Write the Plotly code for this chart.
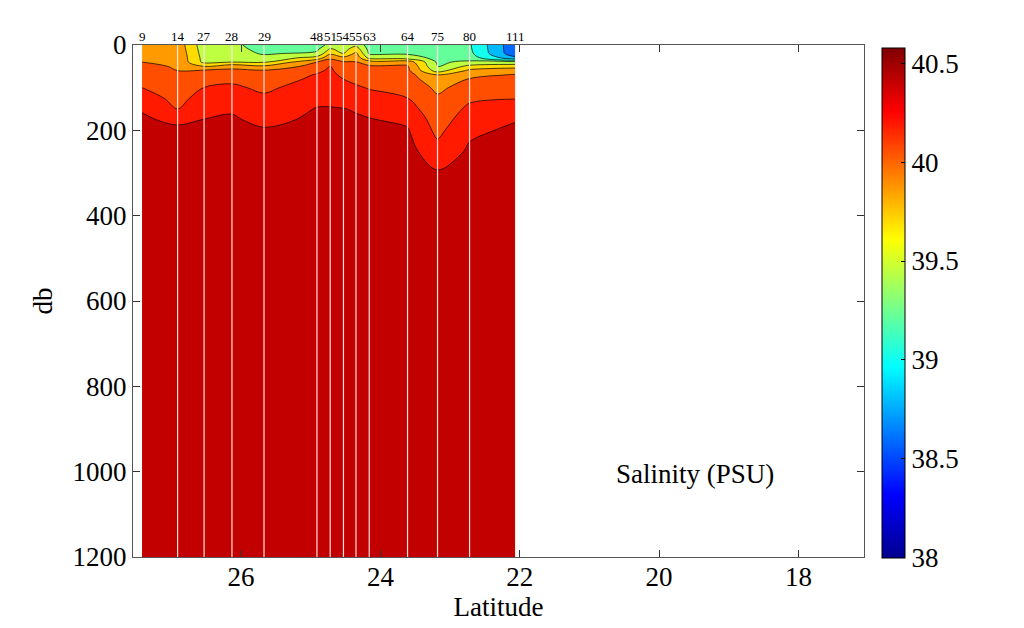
import plotly.graph_objects as go

# ---------------- data ----------------
stations = ["9", "14", "27", "28", "29", "48", "51", "54", "55", "63", "64", "75", "80", "111"]
latitudes = [27.42, 26.91, 26.53, 26.13, 25.67, 24.91, 24.72, 24.53, 24.35, 24.16, 23.61, 23.18, 22.72, 22.06]
depths = [0, 10, 20, 30, 40, 50, 60, 70, 80, 100, 125, 150, 175, 200, 250, 300, 400, 1200]

# salinity profiles (PSU), one row per station, values at the depths above
salinity = [
    [39.900, 39.925, 39.950, 39.975, 40.000, 40.033, 40.067, 40.100, 40.133, 40.200, 40.293, 40.390, 40.420, 40.434, 40.470, 40.473, 40.478, 40.520],  # 9
    [39.920, 39.933, 39.947, 39.960, 39.973, 39.987, 40.000, 40.022, 40.044, 40.089, 40.144, 40.200, 40.370, 40.430, 40.470, 40.475, 40.480, 40.520],  # 14
    [39.480, 39.498, 39.515, 39.533, 39.550, 39.800, 40.027, 40.071, 40.116, 40.203, 40.271, 40.340, 40.403, 40.425, 40.470, 40.475, 40.480, 40.520],  # 27
    [39.450, 39.467, 39.483, 39.500, 39.600, 39.933, 40.044, 40.100, 40.156, 40.235, 40.309, 40.385, 40.416, 40.433, 40.470, 40.475, 40.480, 40.520],  # 28
    [39.300, 39.340, 39.380, 39.459, 39.576, 39.833, 40.018, 40.054, 40.089, 40.161, 40.236, 40.301, 40.366, 40.414, 40.470, 40.475, 40.480, 40.520],  # 29
    [39.320, 39.364, 39.440, 39.680, 40.000, 40.080, 40.160, 40.214, 40.241, 40.296, 40.364, 40.408, 40.423, 40.439, 40.470, 40.475, 40.480, 40.520],  # 48
    [39.450, 39.629, 39.771, 39.945, 40.117, 40.211, 40.232, 40.254, 40.275, 40.318, 40.372, 40.407, 40.423, 40.439, 40.470, 40.475, 40.480, 40.520],  # 51
    [39.450, 39.525, 39.600, 39.850, 40.018, 40.064, 40.109, 40.155, 40.200, 40.261, 40.336, 40.404, 40.421, 40.437, 40.470, 40.475, 40.480, 40.520],  # 54
    [39.550, 39.711, 39.850, 39.933, 40.007, 40.044, 40.081, 40.119, 40.156, 40.226, 40.306, 40.390, 40.415, 40.435, 40.470, 40.475, 40.480, 40.520],  # 55
    [39.300, 39.338, 39.377, 39.533, 39.900, 40.026, 40.058, 40.090, 40.123, 40.187, 40.272, 40.359, 40.409, 40.428, 40.470, 40.475, 40.480, 40.520],  # 63
    [39.340, 39.360, 39.380, 39.480, 39.920, 40.020, 40.044, 40.068, 40.093, 40.141, 40.203, 40.280, 40.365, 40.415, 40.470, 40.475, 40.480, 40.520],  # 64
    [39.300, 39.318, 39.335, 39.353, 39.370, 39.388, 39.500, 39.805, 39.862, 39.959, 40.027, 40.068, 40.108, 40.150, 40.275, 40.420, 40.470, 40.520],  # 75
    [39.220, 39.230, 39.250, 39.300, 39.440, 39.657, 39.845, 39.936, 40.011, 40.081, 40.168, 40.239, 40.299, 40.365, 40.430, 40.470, 40.480, 40.520],  # 80
    [38.650, 38.650, 38.660, 38.850, 39.450, 39.725, 39.917, 40.016, 40.048, 40.113, 40.194, 40.285, 40.390, 40.430, 40.470, 40.475, 40.480, 40.520],  # 111
]

contour_start, contour_end, contour_step = 38.6, 40.4, 0.2
cbar_min, cbar_max = 38.0, 40.58
cbar_ticks = [38, 38.5, 39, 39.5, 40, 40.5]
lat_ticks = [26, 24, 22, 20, 18]
depth_ticks = [0, 200, 400, 600, 800, 1000, 1200]

# ---------------- styling ----------------
FONT = "Liberation Serif, Times New Roman, serif"

jet = [[0.0, "rgb(0,0,143)"], [0.125, "rgb(0,0,255)"], [0.375, "rgb(0,255,255)"],
       [0.625, "rgb(255,255,0)"], [0.875, "rgb(255,0,0)"], [1.0, "rgb(128,0,0)"]]

# one colour per filled band (background, then each band above a level)
band_colors = ["rgb(0,60,255)",
               "rgb(0,105,255)", "rgb(0,185,255)", "rgb(20,255,240)", "rgb(100,255,155)",
               "rgb(190,255,65)", "rgb(255,220,0)", "rgb(255,155,0)", "rgb(255,78,0)",
               "rgb(255,26,0)", "rgb(194,0,0)"]
n_levels = len(band_colors) - 1
band_scale = [[i / n_levels, c] for i, c in enumerate(band_colors)]

z = [[salinity[j][i] for j in range(len(latitudes))] for i in range(len(depths))]

fig = go.Figure()

fig.add_trace(go.Contour(
    x=latitudes, y=depths, z=z,
    contours=dict(start=contour_start, end=contour_end, size=contour_step,
                  coloring="fill", showlines=True),
    line=dict(color="black", width=0.7),
    colorscale=band_scale, showscale=False, hoverinfo="skip",
))

# station vertical lines
lx, ly = [], []
for lat in latitudes[1:]:
    lx += [lat, lat, None]
    ly += [depths[0], depths[-1], None]
fig.add_trace(go.Scatter(x=lx, y=ly, mode="lines",
                         line=dict(color="rgba(255,235,235,0.95)", width=1.2),
                         hoverinfo="skip", showlegend=False))

# colour bar (continuous jet)
fig.add_trace(go.Scatter(
    x=[None], y=[None], mode="markers", showlegend=False, hoverinfo="skip",
    marker=dict(color=[cbar_min], cmin=cbar_min, cmax=cbar_max, colorscale=jet,
                showscale=True,
                colorbar=dict(x=1.0246, xanchor="left", xpad=0, ypad=0,
                              y=0.497, yanchor="middle", len=510, lenmode="pixels",
                              thickness=23, outlinecolor="black", outlinewidth=1,
                              tickvals=cbar_ticks, ticktext=[f"{t:g}" for t in cbar_ticks],
                              ticks="inside", ticklen=4, tickcolor="black",
                              tickfont=dict(family=FONT, size=27, color="black"))),
))

annotations = []
for s, lat in zip(stations, latitudes):
    annotations.append(dict(x=lat, y=1, xref="x", yref="paper", text=s, showarrow=False,
                            xanchor="center", yanchor="bottom", yshift=-1,
                            font=dict(family=FONT, size=13, color="black")))
annotations.append(dict(x=19.48, y=1005, xref="x", yref="y", text="Salinity (PSU)",
                        showarrow=False, xanchor="center", yanchor="middle",
                        font=dict(family=FONT, size=27, color="black")))

# the page body adds an 8 px offset, so the figure is 8 px smaller and margins shifted
fig.update_layout(
    width=1016, height=620,
    margin=dict(l=125, r=160, t=37, b=71),
    paper_bgcolor="white", plot_bgcolor="white",
    font=dict(family=FONT, size=27, color="black"),
    showlegend=False,
    annotations=annotations,
    xaxis=dict(range=[27.55, 17.06], tickvals=lat_ticks, ticktext=[str(t) for t in lat_ticks],
               ticks="inside", ticklen=7, tickcolor="#333", showline=True, linecolor="#555",
               linewidth=1, mirror="ticks", showgrid=False, zeroline=False,
               ticklabelstandoff=-4,
               title=dict(text="Latitude", standoff=0, font=dict(size=27))),
    yaxis=dict(range=[1200, 0], tickvals=depth_ticks, ticktext=[str(t) for t in depth_ticks],
               ticks="inside", ticklen=7, tickcolor="#333", showline=True, linecolor="#555",
               linewidth=1, mirror="ticks", showgrid=False, zeroline=False,
               title=dict(text="db", standoff=12, font=dict(size=27))),
)

fig.write_html("out.html")
